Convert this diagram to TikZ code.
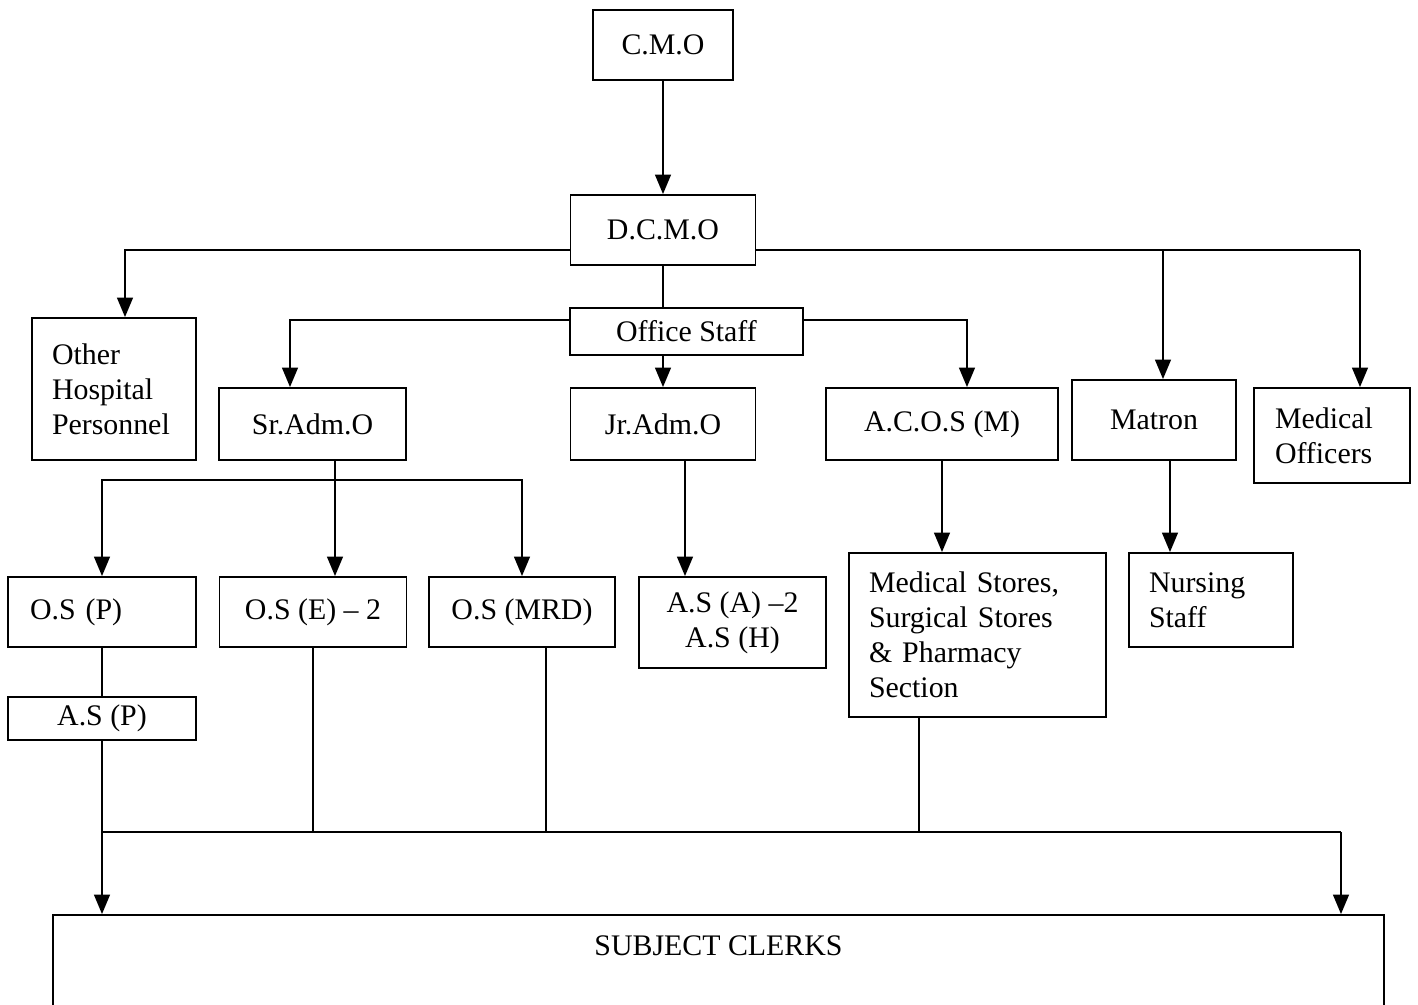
\documentclass[tikz,border=0pt]{standalone}
\usepackage{fontspec}
\setmainfont{Liberation Serif}
\usepackage{tikz}
\usetikzlibrary{positioning,arrows.meta,calc}

\begin{document}
\begin{tikzpicture}[x=0.02cm, y=-0.02cm, >={Triangle[length=11pt,width=9pt]}, line width=0.9pt,
		post/.style={draw, line width=1.1pt, inner sep=0pt, font=\fontsize{17}{20}\selectfont, align=center},
		leftpost/.style={post, align=left}]
		\useasboundingbox (0,0) rectangle (1418,1005);
		% Nodes
		\node[post, minimum width=2.8cm, minimum height=1.4cm]  (cmo)     at (663,45)      {C.M.O};
		\node[post, minimum width=3.7cm, minimum height=1.4cm]  (dcmo)    at (663,230)     {D.C.M.O};
		\node[post, minimum width=4.66cm, minimum height=0.94cm] (office) at (686.5,331.5) {Office Staff};
		\node[leftpost, minimum width=3.28cm, minimum height=2.84cm, text width=2.48cm] (other) at (114,389) {Other\\Hospital\\Personnel};
		\node[post, minimum width=3.74cm, minimum height=1.44cm] (sradm)  at (312.5,424)  {Sr.Adm.O};
		\node[post, minimum width=3.7cm, minimum height=1.44cm]  (jradm)  at (663,424)    {Jr.Adm.O};
		\node[post, minimum width=4.64cm, minimum height=1.44cm] (acos)   at (942,424)    {A.C.O.S (M)};
		\node[post, minimum width=3.28cm, minimum height=1.6cm]  (matron) at (1154,420)   {Matron};
		\node[leftpost, minimum width=3.12cm, minimum height=1.9cm, text width=2.28cm] (medoff) at (1332,435.5) {Medical\\Officers};
		\node[leftpost, minimum width=3.76cm, minimum height=1.4cm, text width=2.88cm] (osp) at (102,612) {O.S (P)};
		\node[post, minimum width=3.74cm, minimum height=1.4cm]  (ose)    at (313,612)    {O.S (E) -- 2};
		\node[post, minimum width=3.72cm, minimum height=1.4cm]  (osmrd)  at (522,612)    {O.S (MRD)};
		\node[post, minimum width=3.74cm, minimum height=1.82cm] (asa)    at (732.5,622.5) {A.S (A) --2\\A.S (H)};
		\node[leftpost, minimum width=5.14cm, minimum height=3.28cm, text width=4.34cm] (stores) at (977.5,635) {Medical Stores,\\Surgical Stores\\\& Pharmacy\\Section};
		\node[leftpost, minimum width=3.28cm, minimum height=1.88cm, text width=2.48cm] (nursing) at (1211,600) {Nursing\\Staff};
		\node[post, minimum width=3.76cm, minimum height=0.86cm] (asp)    at (102,718.5)  {A.S (P)};
		\node[post, minimum width=26.62cm, minimum height=2cm,
			label={[font=\fontsize{17}{20}\selectfont, anchor=north, yshift=-0.3cm]north:SUBJECT CLERKS}] (clerks) at (718.5,965) {};
		\coordinate (sb) at (335,480);
		\coordinate (bl) at (103,832);
		\coordinate (br) at (1341,832);
		%Arrows
		\draw[->] (cmo) -- (dcmo);
		\draw[->] (dcmo.west |- 0,250) -| ([xshift=0.22cm]other.north);
		\draw (dcmo.east |- 0,250) -- (1360,250);
		\draw[->] (1163,250) -- ([xshift=0.18cm]matron.north);
		\draw[->] (1360,250) -- ([xshift=0.56cm]medoff.north);
		\draw (dcmo.south) -- (dcmo.south |- office.north);
		\draw[->] (office.west |- 0,320) -| ([xshift=-0.45cm]sradm.north);
		\draw[->] (office.east |- 0,320) -| ([xshift=0.5cm]acos.north);
		\draw[->] (office.south -| jradm) -- (jradm.north);
		\draw ([xshift=0.45cm]sradm.south) -- (sb);
		\draw[->] (sb) -| (osp.north);
		\draw[->] (sb) -- (sb |- ose.north);
		\draw[->] (sb) -| (osmrd.north);
		\draw[->] ([xshift=0.44cm]jradm.south) -- ([xshift=0.44cm]jradm.south |- asa.north);
		\draw[->] (acos.south) -- (acos.south |- stores.north);
		\draw[->] ([xshift=0.32cm]matron.south) -- ([xshift=0.32cm]matron.south |- nursing.north);
		\draw (osp) -- (asp);
		\draw (ose.south) -- (ose.south |- bl);
		\draw ([xshift=0.48cm]osmrd.south) -- ([xshift=0.48cm]osmrd.south |- bl);
		\draw ([xshift=-1.17cm]stores.south) -- ([xshift=-1.17cm]stores.south |- bl);
		\draw (bl) -- (br);
		\draw[->] (asp.south) -- (asp.south |- clerks.north);
		\draw[->] (br) -- (br |- clerks.north);
\end{tikzpicture}
\end{document}
